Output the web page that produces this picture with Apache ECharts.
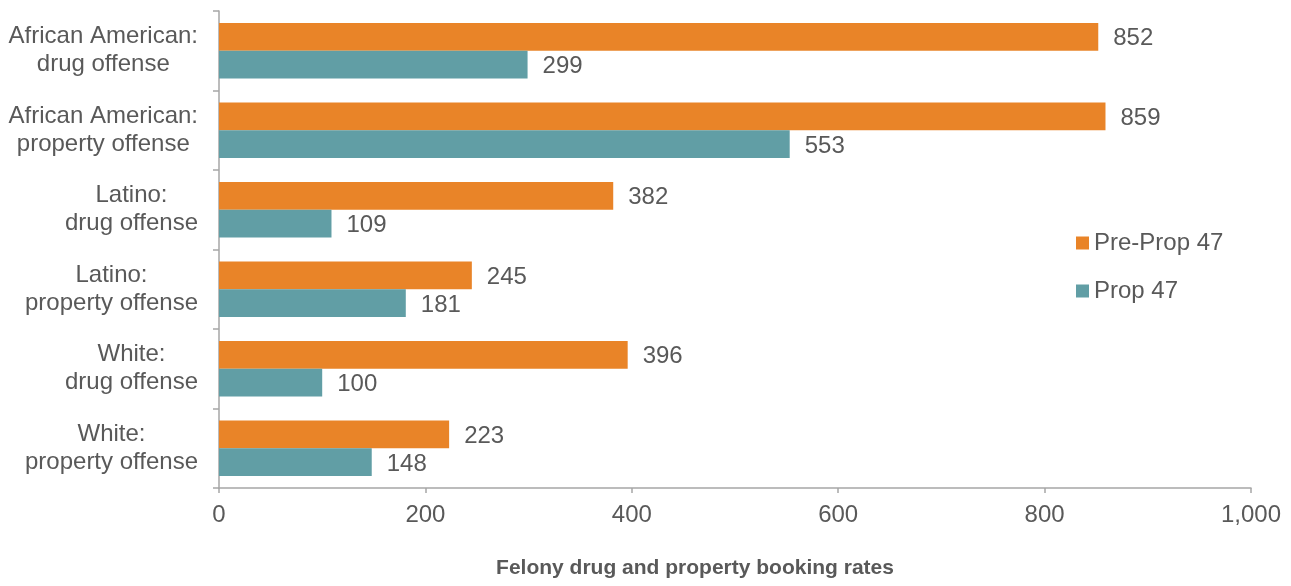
<!DOCTYPE html>
<html>
<head>
<meta charset="utf-8">
<script src="https://cdn.jsdelivr.net/npm/echarts@6/dist/echarts.min.js"></script>
<style>
html,body{margin:0;padding:0;background:#fff;}
#chart{width:1291px;height:586px;}
</style>
</head>
<body>
<div id="chart"></div>
<script>
const categories = [
  'African American:\ndrug offense',
  'African American:\nproperty offense',
  'Latino:\ndrug offense',
  'Latino:\nproperty offense',
  'White:\ndrug offense',
  'White:\nproperty offense'
];
const prePropValues = [852, 859, 382, 245, 396, 223];
const propValues = [299, 553, 109, 181, 100, 148];
const seriesNames = ['Pre-Prop 47', 'Prop 47'];
const xTicks = [0, 200, 400, 600, 800, 1000];
const axisTitle = 'Felony drug and property booking rates';

const FONT = '"Liberation Sans", Arial, Helvetica, sans-serif';
const TXT = '#595959';
const AX = '#A6A6A6';
const FS = 24;

const chart = echarts.init(document.getElementById('chart'));
chart.setOption({
  animation: false,
  textStyle: { fontFamily: FONT },
  title: {
    text: axisTitle,
    left: 690,
    top: 553,
    textAlign: 'center',
    textStyle: { fontFamily: FONT, fontSize: 21, fontWeight: 'bold', color: TXT }
  },
  legend: {
    orient: 'vertical',
    left: 1076,
    top: 231,
    padding: 0,
    itemWidth: 13,
    itemHeight: 13,
    itemGap: 24,
    itemTextGap: 5,
    icon: 'rect',
    data: seriesNames,
    textStyle: { fontFamily: FONT, fontSize: FS, color: TXT, lineHeight: 24 }
  },
  grid: { left: 219, right: 40, top: 11, bottom: 98, containLabel: false },
  xAxis: {
    type: 'value',
    min: xTicks[0],
    max: xTicks[xTicks.length - 1],
    interval: 200,
    axisLine: { show: true, lineStyle: { color: AX, width: 1.5 } },
    axisTick: { show: true, length: 5, lineStyle: { color: AX, width: 1.5 } },
    splitLine: { show: false },
    axisLabel: {
      margin: 15,
      fontSize: FS,
      color: TXT,
      fontFamily: FONT,
      formatter: v => v.toLocaleString('en-US')
    }
  },
  yAxis: {
    type: 'category',
    inverse: true,
    data: categories,
    axisLine: { show: true, lineStyle: { color: AX, width: 1.5 } },
    axisTick: { show: true, length: 6, alignWithLabel: false, lineStyle: { color: AX, width: 1.5 } },
    axisLabel: {
      margin: 21,
      align: 'right',
      color: TXT,
      fontSize: FS,
      fontFamily: FONT,
      lineHeight: 28,
      formatter: v => v.split('\n').map(s => '{c|' + s + '}').join('\n'),
      rich: {
        c: { align: 'center', fontSize: FS, lineHeight: 28, color: TXT, fontFamily: FONT }
      }
    }
  },
  series: [
    {
      name: seriesNames[0],
      type: 'bar',
      data: prePropValues,
      barGap: '0%',
      barCategoryGap: '30%',
      itemStyle: { color: '#E98428' },
      label: { show: true, position: 'right', distance: 15, offset: [0, 2], fontSize: FS, color: TXT, fontFamily: FONT }
    },
    {
      name: seriesNames[1],
      type: 'bar',
      data: propValues,
      barGap: '0%',
      barCategoryGap: '30%',
      itemStyle: { color: '#619EA5' },
      label: { show: true, position: 'right', distance: 15, offset: [0, 2], fontSize: FS, color: TXT, fontFamily: FONT }
    }
  ]
});
</script>
</body>
</html>
